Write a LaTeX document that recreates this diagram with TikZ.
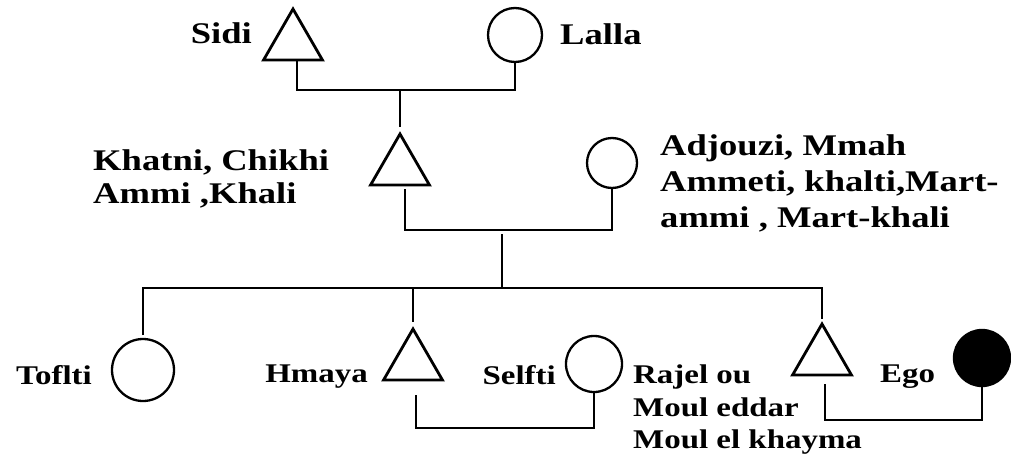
\documentclass[tikz,border=0pt]{standalone}
\usepackage{fontspec}
\setmainfont{Liberation Serif}[FakeStretch=1.22]
\usetikzlibrary{shapes.geometric,calc}
\begin{document}
\begin{tikzpicture}[x=1pt,y=-1pt,
  male/.style={regular polygon, regular polygon sides=3, draw, line width=2.8pt, minimum size=68pt, inner sep=0pt, outer sep=0pt},
  female/.style={circle, draw, line width=2.3pt, inner sep=0pt, outer sep=0pt},
  link/.style={line width=2.5pt},
  lab/.style={font=\bfseries\fontsize{30}{34}\selectfont, inner sep=0pt, align=left},
  labs/.style={font=\bfseries\fontsize{27}{32.5}\selectfont, inner sep=0pt, align=left}]
\fill[white] (0,0) rectangle (1011,458);
\useasboundingbox (0,0) rectangle (1011,458);

% persons
\node[male] (sidi) at (293,43) {};
\node[female, minimum size=54pt] (lalla) at (515,35) {};
\node[male] (khatni) at (400,168) {};
\node[female, minimum size=50pt] (adj) at (612,163) {};
\node[female, minimum size=62pt] (tof) at (143,370) {};
\node[male] (hmaya) at (413,363) {};
\node[female, minimum size=56pt] (selfti) at (594,364) {};
\node[male] (bro) at (822,358) {};
\node[female, fill=black, minimum size=56pt] (ego) at (982,358) {};

% junctions
\coordinate (m1) at (400,90);
\coordinate (m2) at (502,230);
\coordinate (c2) at (502,288);
\coordinate (m3) at (507,428);
\coordinate (m4) at (900,420);

% connectors
\draw[link] ([xshift=4pt]sidi.south) |- (m1) -| (lalla.south);
\draw[link, shorten >=7pt] (m1) -- (m1 |- khatni.north);
\draw[link] ([xshift=5pt,yshift=-4pt]khatni.south) |- (m2) -| (adj.south);
\draw[link, shorten <=4pt] (m2) -- (c2);
\draw[link, shorten <=4pt, shorten >=5pt] (tof.north) -- (tof.north |- c2) -- (bro.north |- c2) -- (bro.north);
\draw[link, shorten >=7pt] (hmaya.north |- c2) -- (hmaya.north);
\draw[link] ([xshift=3pt,yshift=-15pt]hmaya.south) |- (m3) -| (selfti.south);
\draw[link] ([xshift=3pt,yshift=-9pt]bro.south) |- (m4) -| (ego.south);

% labels
\node[lab, anchor=north east] (lsidi) at (252,22) {Sidi};
\node[lab, anchor=north west] (llalla) at (560,23) {Lalla};
\node[lab, anchor=north west, font=\bfseries\fontsize{30}{33}\selectfont] (lkh) at (93,149) {Khatni, Chikhi\\Ammi ,Khali};
\node[lab, anchor=north west, font=\bfseries\fontsize{30}{36}\selectfont] (ladj) at (660,134) {Adjouzi, Mmah\\Ammeti, khalti,Mart-\\ammi , Mart-khali};
\node[labs, anchor=north east] (ltof) at (92,365) {Toflti};
\node[labs, anchor=north east] (lhm) at (368,365) {Hmaya};
\node[labs, anchor=north east] (lsel) at (556,365) {Selfti};
\node[labs, anchor=north west] (lraj) at (633,365) {Rajel ou\\Moul eddar\\Moul el khayma};
\node[labs, anchor=north west] (lego) at (880,365) {Ego};
\end{tikzpicture}
\end{document}
